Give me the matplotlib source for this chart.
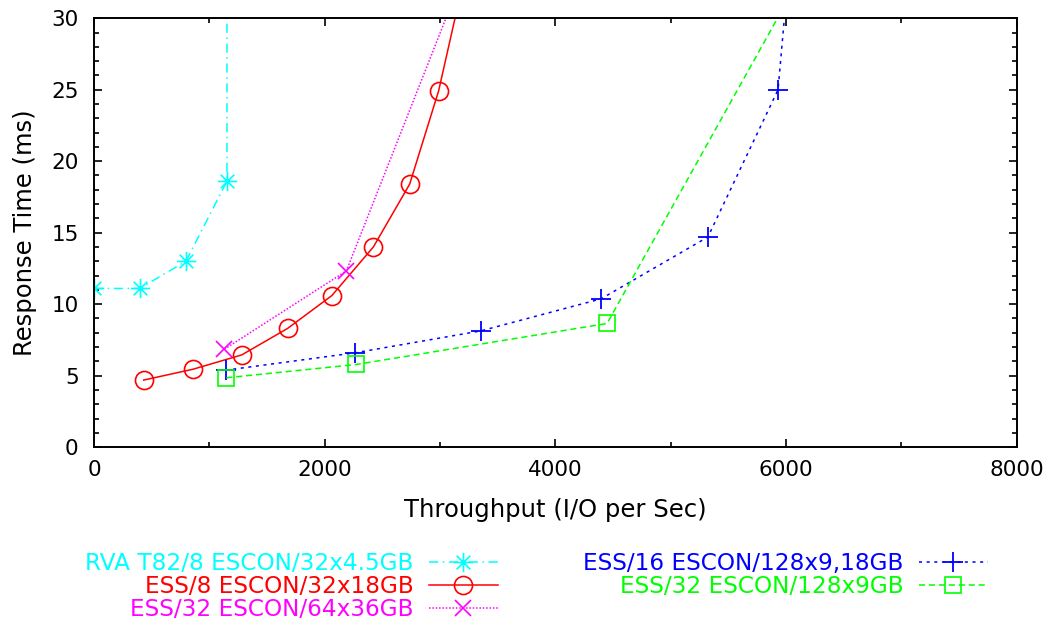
import numpy as np
from matplotlib import pyplot as plt
from matplotlib.path import Path
from matplotlib.ticker import MultipleLocator

# data (points past y=30 only set the direction of the clipped line)
rva_x = [0, 397, 797, 1153, 1153]
rva_y = [11.1, 11.1, 13.0, 18.6, 40.0]

ess8_x = [431, 859, 1281, 1678, 2062, 2422, 2737, 2987, 3200]
ess8_y = [4.69, 5.45, 6.45, 8.3, 10.6, 14.0, 18.4, 24.9, 32.5]

ess32_64_x = [1131, 2188, 3100]
ess32_64_y = [6.85, 12.33, 31.0]

ess16_x = [1141, 2266, 3353, 4395, 5322, 5930, 6010]
ess16_y = [5.38, 6.6, 8.13, 10.37, 14.7, 25.0, 32.3]

ess32_128_x = [1147, 2272, 4448, 6050]
ess32_128_y = [4.85, 5.78, 8.65, 31.8]

labels = ['RVA T82/8 ESCON/32x4.5GB', 'ESS/8 ESCON/32x18GB', 'ESS/32 ESCON/64x36GB',
          'ESS/16 ESCON/128x9,18GB', 'ESS/32 ESCON/128x9GB']

plt.rcParams['font.family'] = ['DejaVu Sans']

# gnuplot style asterisk: plus and cross on top of each other
star = Path([(-1, 0), (1, 0), (0, -1), (0, 1),
             (-0.7, -0.7), (0.7, 0.7), (-0.7, 0.7), (0.7, -0.7)],
            [Path.MOVETO, Path.LINETO] * 4)

fig = plt.figure(figsize=(10.44, 6.28), dpi=100)
ax = fig.add_axes([0.090, 0.288, 0.884, 0.683])

lw = 1.1
ax.plot(rva_x, rva_y, color='#00ffff', lw=lw, ls=(0, (6, 3, 1, 3)),
        marker=star, ms=14, mfc='none', mew=1.2, label=labels[0])
ax.plot(ess8_x, ess8_y, color='#ff0000', lw=lw, ls='-',
        marker='o', ms=13, mfc='none', mew=1.2, label=labels[1])
ax.plot(ess32_64_x, ess32_64_y, color='#ff00ff', lw=lw, ls=(0, (1, 1.2)),
        marker='x', ms=12, mfc='none', mew=1.2, label=labels[2])
ax.plot(ess16_x, ess16_y, color='#0000ff', lw=lw, ls=(0, (2, 3)),
        marker='+', ms=15, mfc='none', mew=1.3, label=labels[3])
ax.plot(ess32_128_x, ess32_128_y, color='#00ff00', lw=lw, ls=(0, (4, 2.5)),
        marker='s', ms=12, mfc='none', mew=1.2, label=labels[4])

ax.set_xlim(0, 8000)
ax.set_ylim(0, 30)
ax.xaxis.set_major_locator(MultipleLocator(2000))
ax.xaxis.set_minor_locator(MultipleLocator(1000))
ax.yaxis.set_major_locator(MultipleLocator(5))
ax.yaxis.set_minor_locator(MultipleLocator(1))
ax.tick_params(which='both', direction='in', top=True, right=True, width=1.2, labelsize=15.5)
ax.tick_params(which='major', length=6)
ax.tick_params(which='minor', length=3.5)
ax.tick_params(axis='x', pad=9)
ax.tick_params(axis='y', pad=11)
for s in ax.spines.values():
    s.set_linewidth(1.4)

ax.set_xlabel('Throughput (I/O per Sec)', fontsize=17.5, labelpad=13)
ax.set_ylabel('Response Time (ms)', fontsize=17.5, labelpad=10)

leg = fig.legend(loc='upper center', bbox_to_anchor=(0.514, 0.136), ncols=2,
                 markerfirst=False, frameon=False, fontsize=16.7, handlelength=3.0,
                 handletextpad=0.65, columnspacing=3.66, labelspacing=0.0,
                 numpoints=1, borderaxespad=0)
for t, c in zip(leg.get_texts(), ['#00ffff', '#ff0000', '#ff00ff', '#0000ff', '#00ff00']):
    t.set_color(c)

fig.savefig('out.png', dpi=100)
